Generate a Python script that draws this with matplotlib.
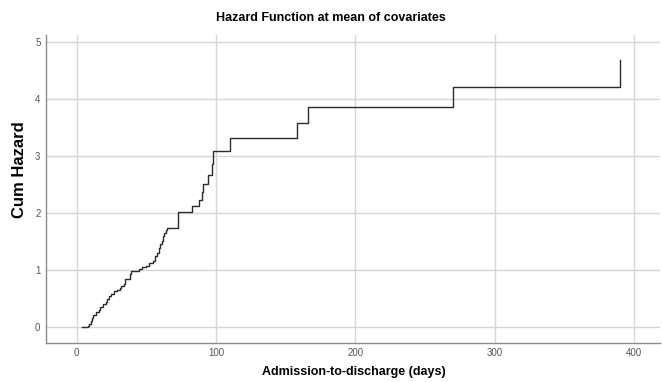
import matplotlib
matplotlib.use("Agg")
import matplotlib.pyplot as plt

# survival time (days) and cumulative hazard at each event
days = [4, 8, 9, 10, 11, 12, 14, 16, 17, 19, 21, 22, 23, 25, 27, 29, 31, 32,
        34, 35, 38, 39, 45, 47, 50, 52, 55, 56, 58, 59, 60, 61, 62, 63, 64, 65,
        73, 83, 88, 90, 91, 94, 97, 98, 110, 158, 166, 270, 390]
cum_hazard = [0, 0.03, 0.06, 0.11, 0.17, 0.22, 0.27, 0.31, 0.35, 0.40, 0.45,
              0.50, 0.55, 0.59, 0.63, 0.66, 0.69, 0.72, 0.76, 0.85, 0.93, 0.98,
              1.02, 1.05, 1.08, 1.12, 1.17, 1.25, 1.31, 1.39, 1.46, 1.52, 1.60,
              1.66, 1.70, 1.74, 2.02, 2.13, 2.24, 2.37, 2.51, 2.67, 2.87, 3.09,
              3.32, 3.58, 3.87, 4.22, 4.69]

x_ticks = [0, 100, 200, 300, 400]
y_ticks = [0, 1, 2, 3, 4, 5]

plt.rcParams['font.family'] = ['Liberation Sans', 'DejaVu Sans']

fig = plt.figure(figsize=(6.62, 3.82), dpi=100)
ax = fig.add_axes([0.0695, 0.103, 0.928, 0.806])

ax.plot(days, cum_hazard, drawstyle='steps-post', color='#2b2b2b', linewidth=1.0)

ax.set_xlim(-22, 419)
ax.set_ylim(-0.27, 5.13)
ax.set_xticks(x_ticks)
ax.set_yticks(y_ticks)
ax.grid(True, color='#d6d6d6', linewidth=1.0)
ax.set_axisbelow(True)

for side in ['top', 'right']:
    ax.spines[side].set_visible(False)
for side in ['left', 'bottom']:
    ax.spines[side].set_color('#8c8c8c')
    ax.spines[side].set_linewidth(1.0)

ax.tick_params(length=0, labelsize=7, labelcolor='#555555', pad=4)

fig.text(0.5, 0.952, 'Hazard Function at mean of covariates', ha='center',
         va='center', fontsize=9, fontweight='bold')
fig.text(0.535, 0.027, 'Admission-to-discharge (days)', ha='center',
         va='center', fontsize=9, fontweight='bold')
fig.text(0.029, 0.555, 'Cum Hazard', ha='center', va='center', rotation=90,
         fontsize=12, fontweight='bold')

fig.savefig('out.png', dpi=100)
